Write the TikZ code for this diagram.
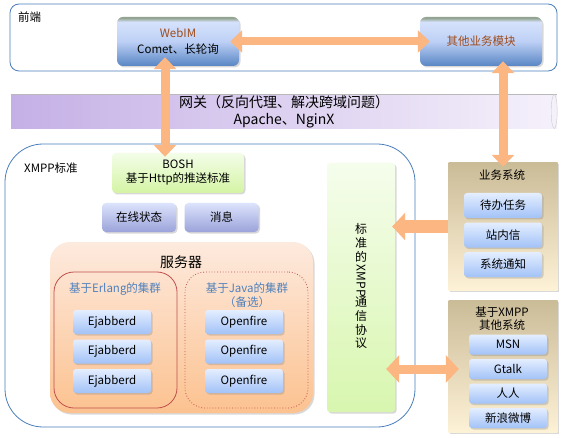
\documentclass[tikz,border=0pt]{standalone}
\usepackage{fontspec}
\setmainfont{Noto Sans CJK SC}
\usetikzlibrary{arrows.meta, shadows}

\definecolor{frameblue}{HTML}{4A7EBB}
\definecolor{webtop}{HTML}{D6E2FC}
\definecolor{webmid}{HTML}{BDD0F5}
\definecolor{webbot}{HTML}{5886C4}
\definecolor{webedge}{HTML}{93A391}
\definecolor{webtext}{HTML}{9E4B1B}
\definecolor{arrowor}{HTML}{FBB681}
\definecolor{gwleft}{HTML}{C5B0E6}
\definecolor{gwright}{HTML}{F5F1FB}
\definecolor{boshtop}{HTML}{F3FDE8}
\definecolor{boshbot}{HTML}{D4F4A4}
\definecolor{lavtop}{HTML}{DCE3FC}
\definecolor{lavbot}{HTML}{9BA3DA}
\definecolor{peachtop}{HTML}{FDEADE}
\definecolor{peachbot}{HTML}{FCC290}
\definecolor{clred}{HTML}{C0504D}
\definecolor{cltext}{HTML}{4F81BD}
\definecolor{itemtop}{HTML}{E4EEFF}
\definecolor{itembot}{HTML}{A2C2F7}
\definecolor{prototop}{HTML}{F5FDEC}
\definecolor{protobot}{HTML}{D8F6AF}
\definecolor{tantop}{HTML}{CBBC98}
\definecolor{tanbot}{HTML}{FDF1D6}

\pgfdeclareverticalshading{webimshade}{100bp}{color(0bp)=(webbot); color(25bp)=(webbot); color(50bp)=(webmid); color(70bp)=(webtop); color(74bp)=(webedge); color(100bp)=(webedge)}

\begin{document}
\begin{tikzpicture}[x=1pt, y=-1pt,
    every node/.style={inner sep=0pt, align=center, font=\fontsize{11.5}{14}\selectfont},
    outerbox/.style={draw=frameblue, fill=white, line width=0.8pt},
    shadowed/.style={drop shadow={shadow xshift=1.5pt, shadow yshift=-1.5pt, opacity=0.3}},
    webbox/.style={shade, shading=webimshade, rounded corners=6pt, minimum width=122pt, minimum height=49pt, shadowed},
    lavbox/.style={top color=lavtop, bottom color=lavbot, rounded corners=4pt, minimum width=74pt, minimum height=29pt, shadowed},
    entry/.style={top color=itemtop, bottom color=itembot, rounded corners=3pt, minimum width=78pt, minimum height=24pt, shadowed},
    tanbox/.style={top color=tantop, bottom color=tanbot, minimum width=109pt, shadowed},
    cluster/.style={draw=clred, line width=0.8pt, rounded corners=20pt, minimum width=123pt, minimum height=136pt},
    cltitle/.style={text=cltext, font=\fontsize{11.5}{14}\selectfont},
    flow/.style={draw=arrowor, line width=9pt},
    ftip/.tip={Triangle[length=12pt, width=22pt]},
    fbig/.tip={Triangle[length=13pt, width=27pt]}]
  \useasboundingbox (0,0) rectangle (564,438);

  \node[outerbox, rounded corners=9pt, minimum width=547pt, minimum height=67pt] (front) at (283.5,37.5) {};
  \node[anchor=west] (fronttitle) at (18,17) {前端};
  \node[webbox] (webim) at (178,41.5) {{\color{webtext}WebIM}\\[2pt]Comet、长轮询};
  \node[webbox, text=webtext] (other) at (481,41.5) {其他业务模块};

  \node[left color=gwleft, right color=gwright, minimum width=546pt, minimum height=34pt,
        font=\fontsize{14}{17}\selectfont] (gw) at (284,111.5) {网关（反向代理、解决跨域问题）\\Apache、NginX};
  \draw[gray!55, line width=1pt] (gw.north west) -- (gw.north east);
  \draw[gray!40, fill=gwright] ([xshift=-3pt]gw.east) ellipse[x radius=3pt, y radius=17pt];

  \node[outerbox, rounded corners=38pt, minimum width=410pt, minimum height=283pt] (xmpp) at (210,285.5) {};
  \node[anchor=west] (xmpptitle) at (24,168) {XMPP标准};
  \node[top color=boshtop, bottom color=boshbot, rounded corners=4pt, minimum width=132pt, minimum height=40pt,
        shadowed] (bosh) at (178,173) {BOSH\\基于Http的推送标准};
  \node[lavbox] (online) at (139,217.5) {在线状态};
  \node[lavbox] (msg) at (221.5,217.5) {消息};

  \node[top color=peachtop, bottom color=peachbot, rounded corners=20pt, minimum width=263pt, minimum height=171pt,
        shadowed] (server) at (181.5,327.5) {};
  \node[font=\fontsize{14}{16}\selectfont] (servertitle) at (181,262) {服务器};
  \node[cluster] (erlang) at (115.5,340) {};
  \node[cluster, dotted] (java) at (246.5,340) {};
  \node[cltitle] (erlangtitle) at (115,289) {基于Erlang的集群};
  \node[cltitle] (javatitle) at (247,295) {基于Java的集群\\（备选）};
  \foreach \y [count=\i] in {322,351.5,381}{
    \node[entry] (ej\i) at (112,\y) {Ejabberd};
    \node[entry] (of\i) at (244,\y) {Openfire};
  }

  \node[top color=prototop, bottom color=protobot, rounded corners=3pt, minimum width=68pt, minimum height=249pt,
        shadowed, font=\fontsize{12}{12.5}\selectfont] (proto) at (361,287.5)
        {\begin{tabular}{@{}c@{}}标\\准\\的\\\rotatebox[origin=c]{-90}{XMPP}\\通\\信\\协\\议\end{tabular}};

  \node[tanbox, minimum height=127pt] (biz) at (503,226.5) {};
  \node (biztitle) at (502,175) {业务系统};
  \foreach \t [count=\i] in {待办任务,站内信,系统通知}
    \node[entry, minimum height=25pt] (biz\i) at (503,176+29.5*\i) {\t};

  \node[tanbox, minimum height=132pt] (others) at (503,366) {};
  \node[font=\fontsize{11.5}{13}\selectfont] (otherstitle) at (502,318.5) {基于XMPP\\其他系统};
  \node[entry, minimum height=20pt] (msn) at (508,344.5) {MSN};
  \node[entry, minimum height=20pt] (gtalk) at (508,369) {Gtalk};
  \node[entry, minimum height=20pt] (renren) at (508,393.5) {人人};
  \node[entry, minimum height=20pt] (weibo) at (508,418) {新浪微博};

  \draw[flow, line width=8pt, ftip-ftip] ([xshift=-9pt]webim.east) -- ([xshift=10pt]other.west);
  \draw[flow, ftip-ftip] ([xshift=-13pt,yshift=9pt]webim.south) -- ([xshift=-13pt,yshift=-4pt]bosh.north);
  \draw[flow, ftip-ftip] ([xshift=22pt,yshift=5pt]other.south) -- ([yshift=-4pt]biz.north);
  \draw[flow, line width=12pt, -fbig, shorten >=-3pt] (biz.west) -- (proto.east |- biz.west);
  \draw[flow, fbig-fbig, shorten <=-9pt, shorten >=10pt] (proto.east |- gtalk.west) -- (gtalk.west);
\end{tikzpicture}
\end{document}
